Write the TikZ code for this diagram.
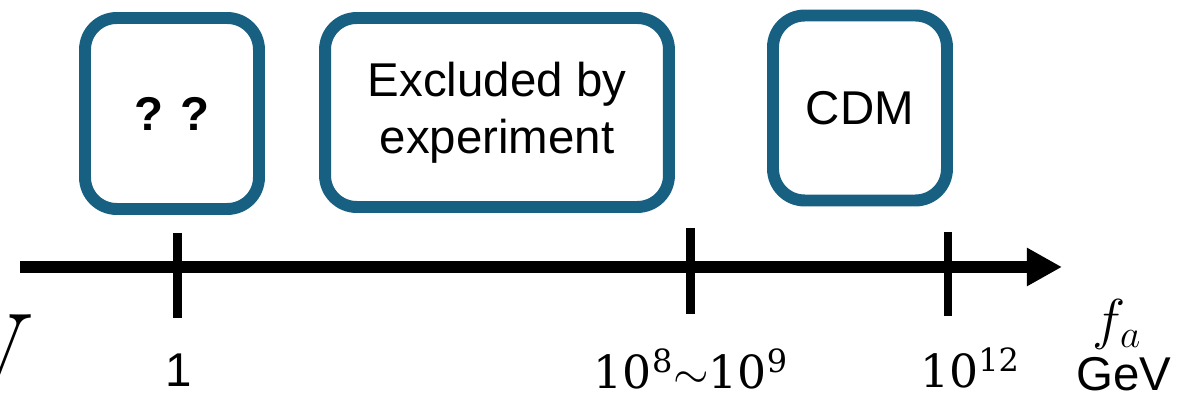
\RequirePackage{fix-cm}
\documentclass[tikz,border=0pt]{standalone}
\usepackage{fontspec}
\usepackage{amsmath}
\usetikzlibrary{arrows.meta}
\newfontfamily\boxfont{Liberation Sans}
\newfontfamily\numfont{DejaVu Serif}
\definecolor{boxblue}{RGB}{24,96,130}

\begin{document}
\begin{tikzpicture}[x=0.02cm, y=-0.02cm,
    regionbox/.style={draw=boxblue, line width=6.8pt, rounded corners=18pt,
      inner sep=0pt, align=center, font=\boxfont\fontsize{27}{32.5}\selectfont},
    tickmark/.style={line width=4.6pt},
    ticklabel/.style={anchor=base, inner sep=0pt}]
    \useasboundingbox (0,0) rectangle (1178,394);
    % regions above the axis
    \node[regionbox, minimum width=3.48cm, minimum height=3.82cm] at (172,113.5) (unk) {\bfseries ? ?} ;
    \node[regionbox, minimum width=6.88cm, minimum height=3.78cm] at (497,112.5) (excl) {Excluded by\\experiment} ;
    \node[regionbox, minimum width=3.48cm, minimum height=3.70cm] at (860,108) (cdm) {CDM} ;
    % axis
    \coordinate (axstart) at (20,267) ;
    \coordinate (axend) at (1062,267) ;
    \draw[line width=6.8pt, -{Triangle[length=20pt,width=20.5pt]}] (axstart) -- (axend) ;
    \coordinate (t1top) at (177.5,233) ;
    \coordinate (t1bot) at (177.5,318) ;
    \coordinate (t2top) at (690.5,228) ;
    \coordinate (t2bot) at (690.5,314) ;
    \coordinate (t3top) at (948,232) ;
    \coordinate (t3bot) at (948,316) ;
    \draw[tickmark] (t1top) -- (t1bot) ;
    \draw[tickmark] (t2top) -- (t2bot) ;
    \draw[tickmark] (t3top) -- (t3bot) ;
    % labels
    \node[ticklabel, font=\boxfont\fontsize{27}{32}\selectfont] at (179,387) (lone) {1} ;
    \node[ticklabel, font=\numfont\fontsize{26}{30}\selectfont] at (691,389) (lmid) {10\textsuperscript{8}$\sim$10\textsuperscript{9}} ;
    \node[ticklabel, font=\numfont\fontsize{26}{30}\selectfont] at (970,388) (lhigh) {10\textsuperscript{12}} ;
    \node[ticklabel, font=\fontsize{32}{36}\selectfont] at (1117,339) (fa) {$f_a$} ;
    \node[ticklabel, font=\boxfont\fontsize{27}{32}\selectfont] at (1124,391) (gev) {GeV} ;
    \node[anchor=base east, inner sep=0pt, font=\fontsize{74}{74}\selectfont] at (33,404) (vcut) {V} ;
\end{tikzpicture}
\end{document}
